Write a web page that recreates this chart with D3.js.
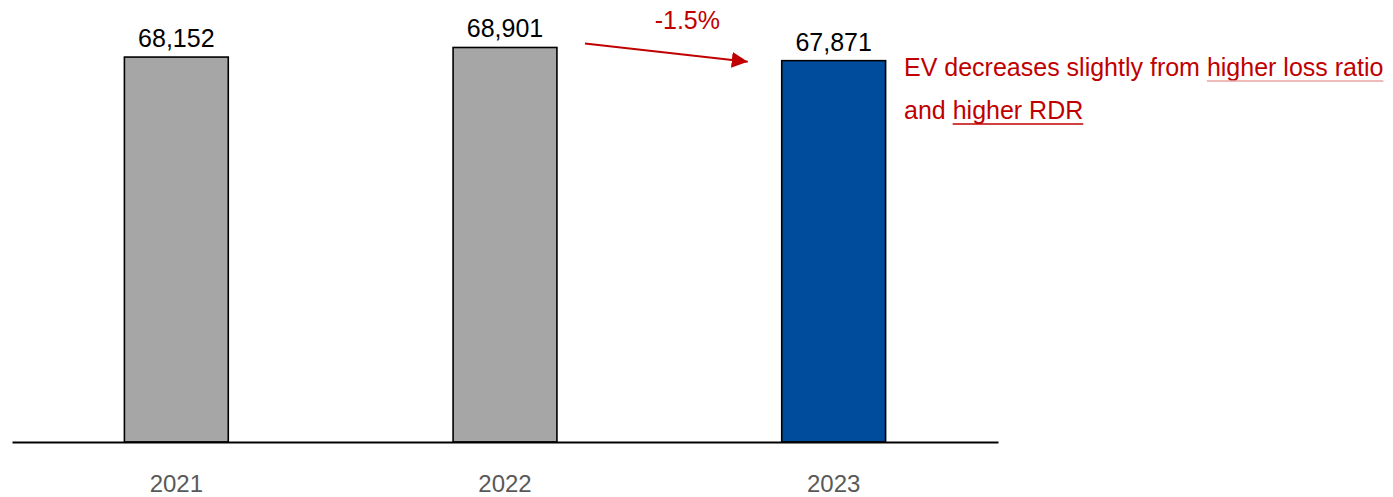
<!DOCTYPE html>
<html>
<head>
<meta charset="utf-8">
<script src="https://cdn.jsdelivr.net/npm/d3@7"></script>
<style>
  html, body { margin: 0; padding: 0; background: #fff; }
  svg { display: block; font-family: "Liberation Sans", Arial, sans-serif; }
</style>
</head>
<body>
<svg id="chart" width="1393" height="497"></svg>
<script>
// Embedded value by year
const years = ["2021", "2022", "2023"];
const values = [68152, 68901, 67871];
const barColors = ["#a6a6a6", "#a6a6a6", "#004c9c"];
const changeLabel = "-1.5%";
const noteLine1 = [
  { text: "EV decreases slightly from ", underline: false },
  { text: "higher loss ratio", underline: true }
];
const noteLine2 = [
  { text: "and ", underline: false },
  { text: "higher RDR", underline: true }
];

const svg = d3.select("#chart");
const red = "#c00000";
const baseY = 442;

const x = d3.scaleBand()
  .domain(years)
  .range([12, 998])
  .paddingInner(0.684)
  .paddingOuter(0.342);

const y = d3.scaleLinear()
  .domain([38100, 70000])
  .range([baseY, 33.4]);

// Bars
svg.append("g").selectAll("rect")
  .data(values)
  .join("rect")
  .attr("x", (d, i) => x(years[i]))
  .attr("y", d => y(d))
  .attr("width", x.bandwidth())
  .attr("height", d => baseY - y(d))
  .attr("fill", (d, i) => barColors[i])
  .attr("stroke", "#000")
  .attr("stroke-width", 1.6);

// Value labels
svg.append("g").selectAll("text")
  .data(values)
  .join("text")
  .attr("x", (d, i) => x(years[i]) + x.bandwidth() / 2)
  .attr("y", d => y(d) - 10)
  .attr("text-anchor", "middle")
  .attr("font-size", 25)
  .attr("fill", "#000")
  .text(d => d3.format(",")(d));

// Category axis
const xAxis = svg.append("g")
  .attr("transform", `translate(0,${baseY})`)
  .call(d3.axisBottom(x).tickSize(0).tickPadding(33));
xAxis.select(".domain").attr("stroke", "#000").attr("stroke-width", 2);
xAxis.selectAll(".tick text")
  .attr("font-size", 24)
  .attr("font-family", "'Liberation Sans', Arial, sans-serif")
  .attr("fill", "#595959")
  .attr("dy", "0.71em");

// Change arrow between 2022 and 2023
const defs = svg.append("defs");
defs.append("marker")
  .attr("id", "arrowHead")
  .attr("viewBox", "0 0 10 10")
  .attr("refX", 10).attr("refY", 5)
  .attr("markerWidth", 8).attr("markerHeight", 8)
  .attr("markerUnits", "strokeWidth")
  .attr("orient", "auto")
  .append("path")
  .attr("d", "M0,0 L10,5 L0,10 Z")
  .attr("fill", red);

const x2022 = x("2022") + x.bandwidth();
const x2023 = x("2023");
svg.append("line")
  .attr("x1", x2022 + 28).attr("y1", y(values[1]) - 4)
  .attr("x2", x2023 - 34).attr("y2", y(values[2]) + 1)
  .attr("stroke", red)
  .attr("stroke-width", 2)
  .attr("marker-end", "url(#arrowHead)");

svg.append("text")
  .attr("x", (x2022 + x2023) / 2 + 18)
  .attr("y", 29)
  .attr("text-anchor", "middle")
  .attr("font-size", 25)
  .attr("fill", red)
  .text(changeLabel);

// Annotation with underlined phrases
function drawLine(parts, x0, yBase, ulColor) {
  const t = svg.append("text")
    .attr("x", x0).attr("y", yBase)
    .attr("font-size", 25)
    .attr("fill", red);
  const spans = parts.map(p => t.append("tspan").text(p.text));
  let cx = x0;
  parts.forEach((p, i) => {
    const w = spans[i].node().getComputedTextLength();
    if (p.underline) {
      svg.append("line")
        .attr("x1", cx).attr("x2", cx + w)
        .attr("y1", yBase + 5).attr("y2", yBase + 5)
        .attr("stroke", ulColor)
        .attr("stroke-width", 1.5);
    }
    cx += w;
  });
}
drawLine(noteLine1, 904, 76, "#e8a3a3");
drawLine(noteLine2, 904, 119, red);
</script>
</body>
</html>
